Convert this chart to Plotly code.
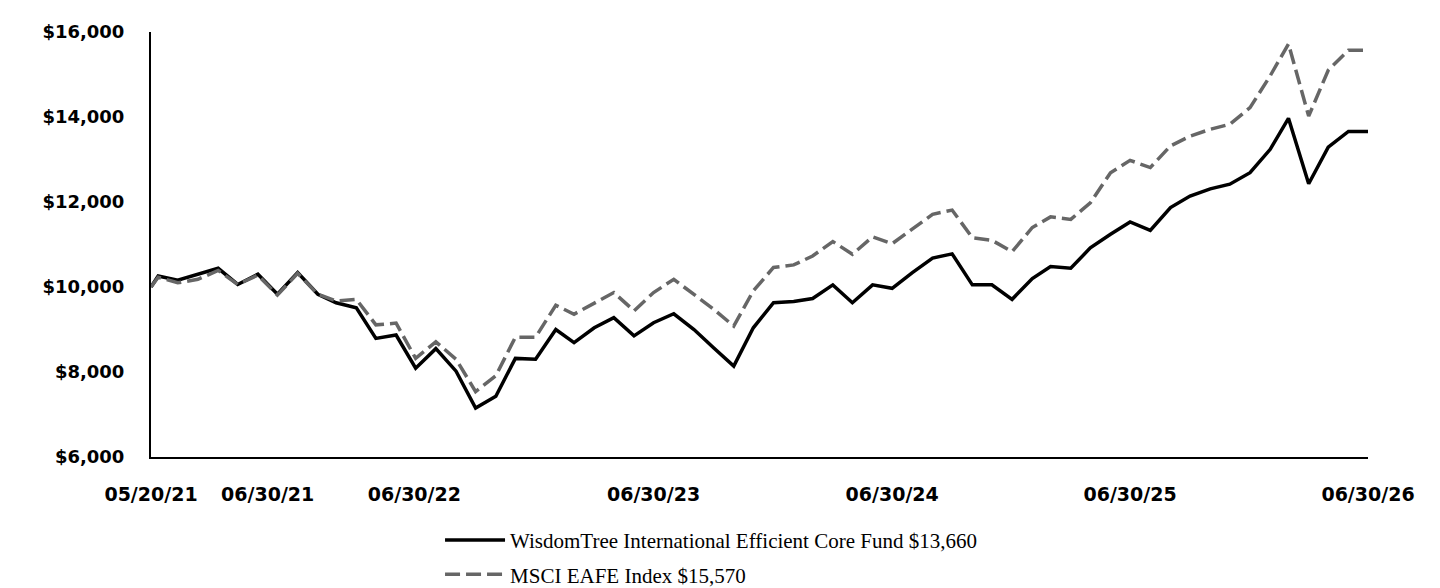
import plotly.graph_objects as go

# month-end valuation dates, 05/20/21 .. 06/30/26
dates = ["2021-05-20", "2021-05-31", "2021-06-30", "2021-07-31", "2021-08-31", "2021-09-30",
         "2021-10-31", "2021-11-30", "2021-12-31", "2022-01-31", "2022-02-28", "2022-03-31",
         "2022-04-30", "2022-05-31", "2022-06-30", "2022-07-31", "2022-08-31", "2022-09-30",
         "2022-10-31", "2022-11-30", "2022-12-31", "2023-01-31", "2023-02-28", "2023-03-31",
         "2023-04-30", "2023-05-31", "2023-06-30", "2023-07-31", "2023-08-31", "2023-09-30",
         "2023-10-31", "2023-11-30", "2023-12-31", "2024-01-31", "2024-02-29", "2024-03-31",
         "2024-04-30", "2024-05-31", "2024-06-30", "2024-07-31", "2024-08-31", "2024-09-30",
         "2024-10-31", "2024-11-30", "2024-12-31", "2025-01-31", "2025-02-28", "2025-03-31",
         "2025-04-30", "2025-05-31", "2025-06-30", "2025-07-31", "2025-08-31", "2025-09-30",
         "2025-10-31", "2025-11-30", "2025-12-31", "2026-01-31", "2026-02-28", "2026-03-31",
         "2026-04-30", "2026-05-31", "2026-06-30"]

fund = [10000, 10260, 10160, 10300, 10440, 10060, 10300, 9830, 10340, 9830, 9630, 9510,
        8790, 8870, 8090, 8550, 8020, 7150, 7430, 8320, 8300, 9000, 8690, 9040,
        9280, 8850, 9160, 9370, 9000, 8570, 8140, 9040, 9630, 9660, 9730, 10050,
        9630, 10050, 9970, 10340, 10680, 10780, 10050, 10050, 9710, 10200, 10480, 10440,
        10920, 11240, 11530, 11330, 11870, 12140, 12310, 12420, 12690, 13240, 13970, 12430,
        13290, 13660, 13660]

index = [10000, 10230, 10100, 10180, 10390, 10060, 10280, 9810, 10320, 9830, 9670, 9710,
         9110, 9150, 8320, 8710, 8300, 7540, 7910, 8820, 8820, 9570, 9360, 9610,
         9870, 9440, 9870, 10180, 9830, 9480, 9080, 9910, 10460, 10520, 10730, 11070,
         10770, 11180, 11020, 11360, 11710, 11810, 11160, 11100, 10830, 11400, 11650, 11590,
         11980, 12690, 12980, 12810, 13320, 13550, 13710, 13830, 14220, 14970, 15720, 14020,
         15100, 15570, 15570]

fund_name = "WisdomTree International Efficient Core Fund $13,660"
index_name = "MSCI EAFE Index $15,570"

# x tick labels as they sit in the original
x_tickvals = ["2021-05-20", "2021-11-15", "2022-06-28", "2023-06-30", "2024-06-30", "2025-06-30", "2026-06-30"]
x_ticktext = ["05/20/21", "06/30/21", "06/30/22", "06/30/23", "06/30/24", "06/30/25", "06/30/26"]
y_tickvals = [6000, 8000, 10000, 12000, 14000, 16000]
y_ticktext = ["$6,000", "$8,000", "$10,000", "$12,000", "$14,000", "$16,000"]

fig = go.Figure()
fig.add_trace(go.Scatter(x=dates, y=fund, mode="lines", name=fund_name, legendgroup="fund",
                         line=dict(color="#000000", width=3.5)))
fig.add_trace(go.Scatter(x=dates, y=index, mode="lines", name=index_name, legendgroup="index",
                         line=dict(color="#666666", width=3.5, dash="15px,6px")))

tick_font = dict(family="DejaVu Sans", size=18, color="#000000", weight="bold")

# page body adds ~7px offset, so margins are trimmed to compensate
fig.update_layout(
    width=1440, height=610,
    margin=dict(l=143, r=80, t=24, b=161),
    paper_bgcolor="white", plot_bgcolor="white",
    showlegend=True,
    legend=dict(x=0.2375, y=-0.148, xanchor="left", yanchor="top",
                font=dict(family="Liberation Serif", size=21, color="#000000"),
                tracegroupgap=4, itemwidth=60, bgcolor="rgba(0,0,0,0)"),
    xaxis=dict(type="date", range=[dates[0], dates[-1]],
               tickvals=x_tickvals, ticktext=x_ticktext,
               showgrid=False, zeroline=False, showline=True, linecolor="#000000",
               linewidth=2, ticks="", ticklabelstandoff=19,
               tickfont=dict(tick_font, size=19)),
    yaxis=dict(range=[6000, 16000], tickvals=y_tickvals, ticktext=y_ticktext,
               showgrid=False, zeroline=False, showline=True, linecolor="#000000",
               linewidth=2, ticks="", ticklabelstandoff=21, tickfont=tick_font),
)

fig.write_html("out.html")
